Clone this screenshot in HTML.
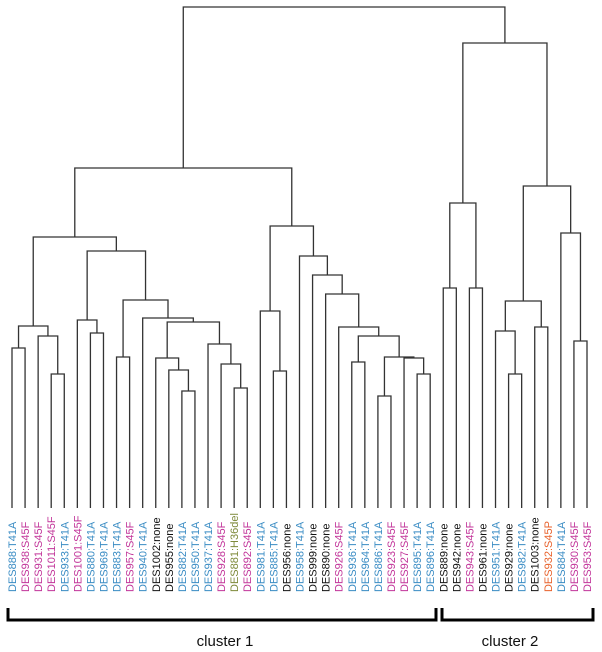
<!DOCTYPE html>
<html><head><meta charset="utf-8"><style>
html,body{margin:0;padding:0;background:#fff;}
svg{display:block;}
text{font-family:"Liberation Sans",sans-serif;}
</style></head><body>
<svg id="chart" width="602" height="652" viewBox="0 0 602 652" xmlns="http://www.w3.org/2000/svg">
<g id="links"></g>
<g id="labels"></g>
<g>
<path d="M8,608 V620 H436 V608" fill="none" stroke="#000" stroke-width="3"/>
<text x="225" y="646" font-size="15" text-anchor="middle" fill="#111">cluster 1</text>
</g>
<g>
<path d="M442,608 V620 H593 V608" fill="none" stroke="#000" stroke-width="3"/>
<text x="510" y="646" font-size="15" text-anchor="middle" fill="#111">cluster 2</text>
</g>
</svg>
<script>
const leafNames = ["DES888:T41A","DES938:S45F","DES931:S45F","DES1011:S45F","DES933:T41A","DES1001:S45F","DES880:T41A","DES969:T41A","DES883:T41A","DES957:S45F","DES940:T41A","DES1002:none","DES955:none","DES882:T41A","DES950:T41A","DES937:T41A","DES928:S45F","DES881:H36del","DES892:S45F","DES981:T41A","DES885:T41A","DES956:none","DES958:T41A","DES999:none","DES890:none","DES926:S45F","DES936:T41A","DES964:T41A","DES886:T41A","DES923:S45F","DES927:S45F","DES895:T41A","DES896:T41A","DES889:none","DES942:none","DES943:S45F","DES961:none","DES951:T41A","DES929:none","DES982:T41A","DES1003:none","DES932:S45P","DES884:T41A","DES930:S45F","DES953:S45F"];
// merges: ids < 45 are leaves, id 45+k refers to merge k
const mergeLeft  = [0,3,2,45,6,5,8,13,12,11,17,16,15,54,10,51,50,48,20,19,26,28,31,30,66,65,25,24,23,22,64,62,33,35,77,38,37,40,81,43,42,83,79,76];
const mergeRight = [1,4,46,47,7,49,9,14,52,53,18,55,56,57,58,59,60,61,21,63,27,29,32,67,68,69,70,71,72,73,74,75,34,36,78,39,80,41,82,44,84,85,86,87];
const mergeHeight = [1.59,1.33,1.71,1.81,1.74,1.87,1.50,1.16,1.37,1.49,1.19,1.43,1.63,1.85,1.89,2.07,2.56,2.70,1.36,1.96,1.45,1.11,1.33,1.49,1.50,1.71,1.80,2.13,2.32,2.51,2.81,3.39,2.19,2.19,3.04,1.33,1.76,1.80,2.06,1.66,2.74,3.21,4.64,5.00];
</script>
<script>
const NS = "http://www.w3.org/2000/svg";
const N = leafNames.length;
const xScale = i => 12 + i * (575 / (N - 1));
const baseY = 508;
const yScale = h => 507 - h * 100;
const colorFor = name => {
  if (name.endsWith("T41A")) return "#3a8cc4";
  if (name.endsWith("S45F")) return "#c2359a";
  if (name.endsWith("S45P")) return "#e8622c";
  if (name.endsWith("H36del")) return "#7e8a3a";
  return "#111";
};
const nodeX = [], nodeY = [];
for (let i = 0; i < N; i++) { nodeX[i] = xScale(i); nodeY[i] = baseY; }
const links = document.getElementById("links");
for (let m = 0; m < mergeHeight.length; m++) {
  const a = mergeLeft[m], b = mergeRight[m];
  const y = yScale(mergeHeight[m]);
  const id = N + m;
  nodeX[id] = (nodeX[a] + nodeX[b]) / 2;
  nodeY[id] = y;
  const p = document.createElementNS(NS, "path");
  p.setAttribute("d", `M${nodeX[a]},${nodeY[a]} V${y} H${nodeX[b]} V${nodeY[b]}`);
  p.setAttribute("fill", "none");
  p.setAttribute("stroke", "#333");
  p.setAttribute("stroke-width", "1.3");
  
  
  links.appendChild(p);
}
const labels = document.getElementById("labels");
leafNames.forEach((name, i) => {
  const t = document.createElementNS(NS, "text");
  const x = xScale(i) + 4;
  t.setAttribute("x", x);
  t.setAttribute("y", 592);
  t.setAttribute("transform", `rotate(-90 ${x} 592)`);
  t.setAttribute("font-size", "11");
  t.setAttribute("fill", colorFor(name));
  t.textContent = name;
  
  
  labels.appendChild(t);
});
</script>
</body></html>
